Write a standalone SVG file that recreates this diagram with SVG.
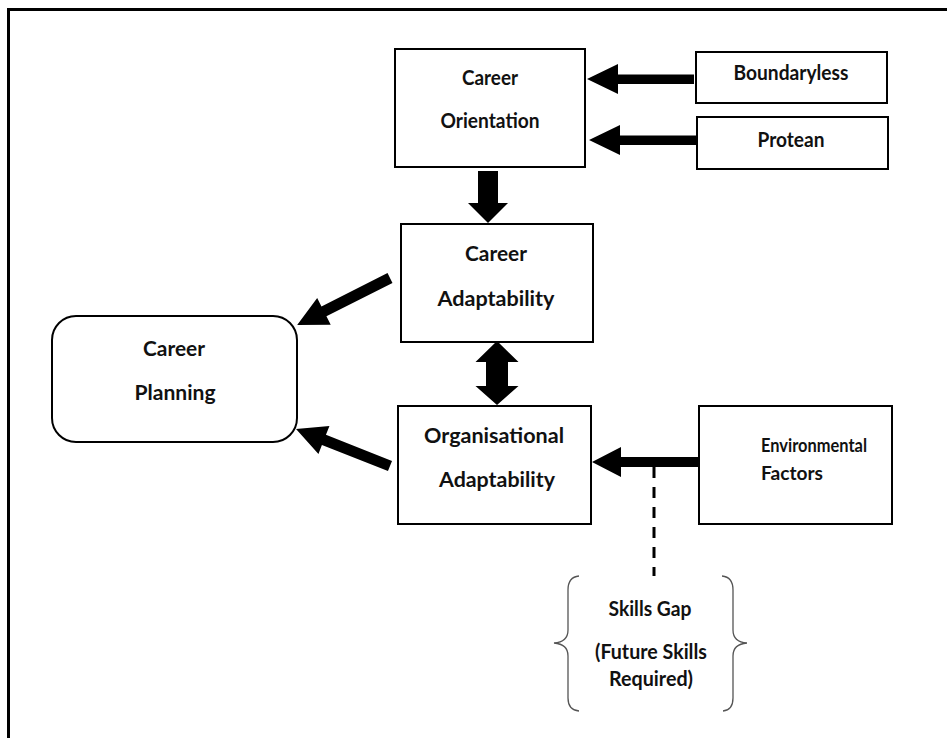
<svg xmlns="http://www.w3.org/2000/svg" width="947" height="738" viewBox="0 0 947 738">
  <style>
    .box { fill: #ffffff; stroke: #000000; stroke-width: 2; }
    .lbl { font-family: Lato, "Open Sans", "Liberation Sans", sans-serif; font-weight: bold; font-size: 20.5px; fill: #111111; text-anchor: middle; }
    .lbl-start { text-anchor: start; font-size: 18.5px; }
    .arrow { fill: #000000; stroke: none; }
    .dash { fill: none; stroke: #000000; stroke-width: 3; stroke-dasharray: 11 9; }
    .brace { fill: none; stroke: #555555; stroke-width: 1.3; }
    .frame { fill: none; stroke: #000000; stroke-width: 3; }
  </style>

  <rect x="0" y="0" width="947" height="738" fill="#ffffff"/>
  <!-- page frame (continues past the right and bottom edges) -->
  <path class="frame" d="M 8.5 738 L 8.5 9.5 L 950 9.5"/>

  <!-- connectors -->
  <g id="connectors">
    <!-- Boundaryless -> Career Orientation -->
    <polygon class="arrow" points="694,74.5 618,74.5 618,64 587,79 618,94 618,84 694,84"/>
    <!-- Protean -> Career Orientation -->
    <polygon class="arrow" points="696,135.5 620,135.5 620,125 589,140 620,155 620,145 696,145"/>
    <!-- Career Orientation -> Career Adaptability -->
    <polygon class="arrow" points="478,171 498,171 498,203 508,203 488,223 468,203 478,203"/>
    <!-- Career Adaptability <-> Organisational Adaptability -->
    <polygon class="arrow" points="497,341 518.5,362 508,362 508,386 518.5,386 497,405 475.5,386 486,386 486,362 475.5,362"/>
    <!-- Career Adaptability -> Career Planning -->
    <polygon class="arrow" transform="translate(390,278) rotate(153.2)" points="0,-5.5 74,-5.5 74,-15 104,0 74,15 74,5.5 0,5.5"/>
    <!-- Organisational Adaptability -> Career Planning -->
    <polygon class="arrow" transform="translate(390,466) rotate(201.5)" points="0,-5.5 71,-5.5 71,-15 101,0 71,15 71,5.5 0,5.5"/>
    <!-- Environmental Factors -> Organisational Adaptability -->
    <polygon class="arrow" points="699,457 621,457 621,447 592,462 621,477 621,467 699,467"/>
    <!-- skills gap link -->
    <line class="dash" x1="654" y1="467" x2="654" y2="576"/>
  </g>

  <g id="career-orientation">
    <rect class="box" x="395" y="49" width="190" height="118"/>
    <text class="lbl" x="490" y="85" textLength="56" lengthAdjust="spacingAndGlyphs">Career</text>
    <text class="lbl" x="490" y="128" textLength="99" lengthAdjust="spacingAndGlyphs">Orientation</text>
  </g>

  <g id="boundaryless">
    <rect class="box" x="696" y="52" width="191" height="51"/>
    <text class="lbl" x="791" y="80" textLength="115" lengthAdjust="spacingAndGlyphs">Boundaryless</text>
  </g>

  <g id="protean">
    <rect class="box" x="697" y="117" width="191" height="52"/>
    <text class="lbl" x="791" y="147" textLength="67" lengthAdjust="spacingAndGlyphs">Protean</text>
  </g>

  <g id="career-adaptability">
    <rect class="box" x="401" y="224" width="192" height="118"/>
    <text class="lbl" x="496" y="261" textLength="62" lengthAdjust="spacingAndGlyphs">Career</text>
    <text class="lbl" x="496" y="306" textLength="117" lengthAdjust="spacingAndGlyphs">Adaptability</text>
  </g>

  <g id="career-planning">
    <rect class="box" x="52" y="316" width="245" height="126" rx="24" ry="24"/>
    <text class="lbl" x="174" y="356" textLength="62" lengthAdjust="spacingAndGlyphs">Career</text>
    <text class="lbl" x="175" y="400" textLength="81" lengthAdjust="spacingAndGlyphs">Planning</text>
  </g>

  <g id="organisational-adaptability">
    <rect class="box" x="398" y="406" width="193" height="118"/>
    <text class="lbl" x="494" y="443" textLength="140" lengthAdjust="spacingAndGlyphs">Organisational</text>
    <text class="lbl" x="497" y="487" textLength="116" lengthAdjust="spacingAndGlyphs">Adaptability</text>
  </g>

  <g id="environmental-factors">
    <rect class="box" x="699" y="406" width="193" height="118"/>
    <text class="lbl lbl-start" x="761" y="452" textLength="106" lengthAdjust="spacingAndGlyphs">Environmental</text>
    <text class="lbl lbl-start" x="761" y="480" textLength="62" lengthAdjust="spacingAndGlyphs">Factors</text>
  </g>

  <g id="skills-gap">
    <path class="brace" d="M 579 576 Q 568 577 568 590 L 568 630 Q 568 642 554 643 Q 568 644 568 656 L 568 698 Q 568 710 579 711"/>
    <path class="brace" d="M 722 576 Q 733 577 733 590 L 733 630 Q 733 642 747 643 Q 733 644 733 656 L 733 698 Q 733 710 723 711"/>
    <text class="lbl" x="650" y="616" textLength="83" lengthAdjust="spacingAndGlyphs">Skills Gap</text>
    <text class="lbl" x="651" y="659" textLength="112" lengthAdjust="spacingAndGlyphs">(Future Skills</text>
    <text class="lbl" x="651" y="686" textLength="84" lengthAdjust="spacingAndGlyphs">Required)</text>
  </g>
</svg>
